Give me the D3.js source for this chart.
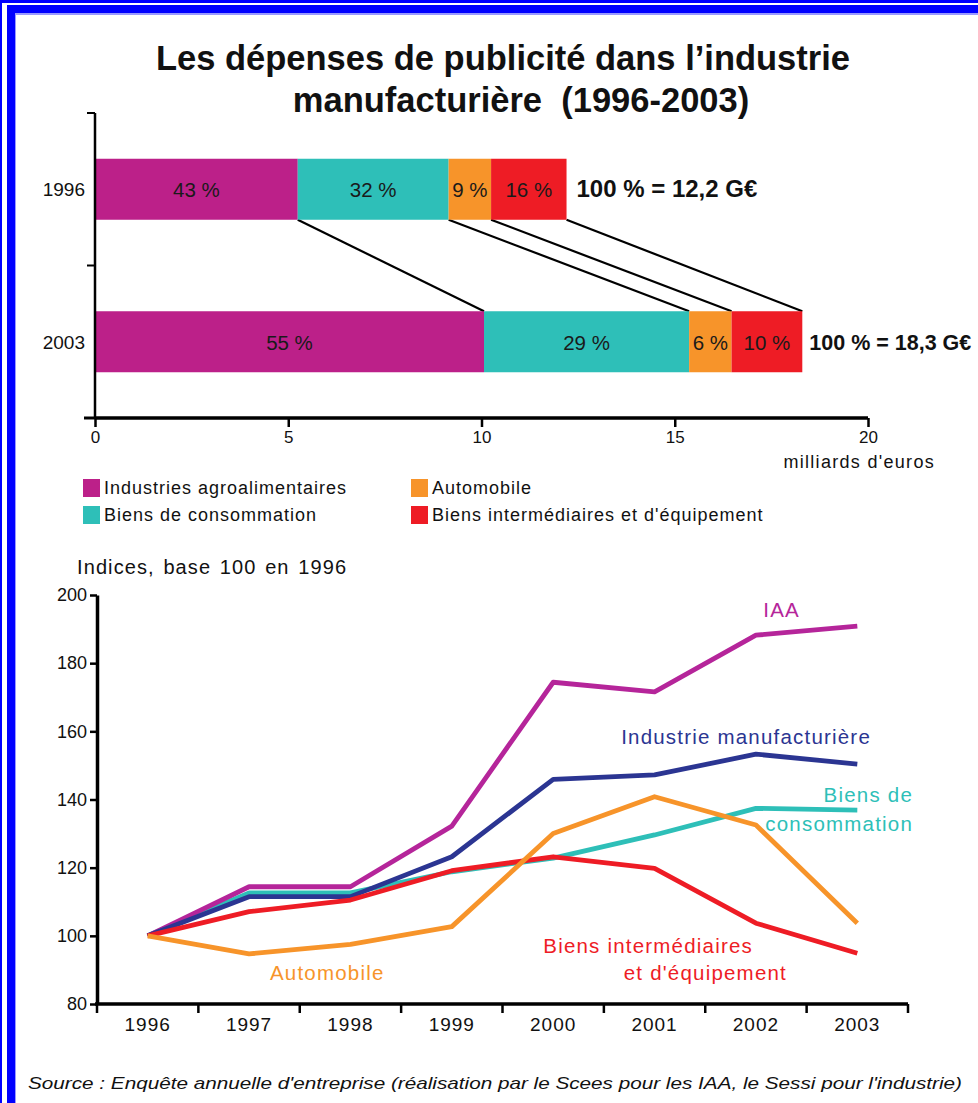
<!DOCTYPE html>
<html>
<head>
<meta charset="utf-8">
<script src="https://cdn.jsdelivr.net/npm/d3@7/dist/d3.min.js"></script>
<style>
body{margin:0;padding:0;background:#fff;}
svg{display:block;font-family:"Liberation Sans",Arial,Helvetica,sans-serif;}
</style>
</head>
<body>
<svg id="chart" width="978" height="1103"></svg>
<script>
// ---------- DATA ----------
const barYears = ["1996", "2003"];
const barTotals = [12.2, 18.3];
const sectors = ["Industries agroalimentaires", "Biens de consommation", "Automobile", "Biens intermédiaires et d'équipement"];
const sectorColors = ["#bc2089", "#2ebfb8", "#f7942a", "#ee1c25"];
const shares1996 = [43, 32, 9, 16];
const shares2003 = [55, 29, 6, 10];
const totalLabels = ["100 % = 12,2 G€", "100 % = 18,3 G€"];
const barTicks = [0, 5, 10, 15, 20];

const lineYears = ["1996", "1997", "1998", "1999", "2000", "2001", "2002", "2003"];
const idxIAA = [100, 114.4, 114.4, 132.2, 174.4, 171.6, 188.2, 190.9];
const idxManuf = [100, 111.5, 111.5, 123.2, 145.9, 147.2, 153.3, 150.4];
const idxConso = [100, 112.6, 112.6, 118.8, 122.8, 129.6, 137.4, 136.9];
const idxAuto = [100, 94.7, 97.5, 102.7, 130.0, 140.8, 132.5, 103.7];
const idxInter = [100, 107.1, 110.5, 119.1, 123.2, 119.8, 103.7, 94.9];
const lineTicks = [80, 100, 120, 140, 160, 180, 200];

const svg = d3.select("#chart");

// ---------- FRAME ----------
svg.append("rect").attr("x", 0).attr("y", 0).attr("width", 978).attr("height", 1103).attr("fill", "#0000ff");
svg.append("rect").attr("x", 2).attr("y", 3).attr("width", 976).attr("height", 1100).attr("fill", "#ffffff");
svg.append("rect").attr("x", 7).attr("y", 5).attr("width", 971).attr("height", 1098).attr("fill", "#0000ff");
svg.append("rect").attr("x", 15).attr("y", 13).attr("width", 963).attr("height", 1090).attr("fill", "#9a9aff");
svg.append("rect").attr("x", 16).attr("y", 15).attr("width", 962).attr("height", 1088).attr("fill", "#ffffff");

// ---------- TITLE ----------
const title = svg.append("text").attr("text-anchor", "middle").attr("font-weight", "bold")
  .attr("font-size", 34.5).attr("fill", "#111").attr("xml:space", "preserve");
title.append("tspan").attr("x", 503).attr("y", 70).text("Les dépenses de publicité dans l’industrie");
title.append("tspan").attr("x", 521).attr("y", 112).text("manufacturière  (1996-2003)");

// ---------- BAR CHART ----------
const xb = d3.scaleLinear().domain([0, 20]).range([95, 868]);
const yb = d3.scaleBand().domain(barYears).range([113, 418]).paddingInner(0.6).paddingOuter(0.3);

const barData = barYears.map((yr, i) => {
  const shares = i === 0 ? shares1996 : shares2003;
  let cum = 0;
  const segs = shares.map((s, j) => {
    const v = barTotals[i] * s / 100;
    const seg = {year: yr, share: s, x0: cum, x1: cum + v, color: sectorColors[j]};
    cum += v;
    return seg;
  });
  return {year: yr, segs, total: barTotals[i], label: totalLabels[i]};
});

// connecting lines
const g = svg.append("g");
for (let j = 0; j < sectors.length; j++) {
  const a = barData[0].segs[j], b = barData[1].segs[j];
  g.append("line")
    .attr("x1", xb(a.x1)).attr("y1", yb("1996") + yb.bandwidth())
    .attr("x2", xb(b.x1)).attr("y2", yb("2003"))
    .attr("stroke", "#000").attr("stroke-width", 2.2);
}

barData.forEach((bd, i) => {
  const grp = svg.append("g");
  grp.selectAll("rect").data(bd.segs).join("rect")
    .attr("x", d => xb(d.x0)).attr("y", yb(bd.year))
    .attr("width", d => xb(d.x1) - xb(d.x0)).attr("height", yb.bandwidth())
    .attr("fill", d => d.color);
  grp.selectAll("text.pct").data(bd.segs).join("text").attr("class", "pct")
    .attr("x", d => (xb(d.x0) + xb(d.x1)) / 2).attr("y", yb(bd.year) + yb.bandwidth() / 2 + 8)
    .attr("text-anchor", "middle").attr("font-size", 20.5).attr("fill", "#1a1a1a")
    .text(d => d.share + " %");
  grp.append("text")
    .attr("x", xb(bd.total) + (i === 0 ? 10 : 7)).attr("y", yb(bd.year) + yb.bandwidth() / 2 + 8)
    .attr("font-size", i === 0 ? 24 : 21.5).attr("font-weight", "bold").attr("fill", "#111")
    .text(bd.label);
});

// bar axes
const xAxisB = svg.append("g").attr("transform", "translate(0,418)")
  .call(d3.axisBottom(xb).tickValues(barTicks).tickSize(9).tickPadding(4).tickFormat(d3.format("d")));
xAxisB.select(".domain").attr("stroke-width", 3.5).attr("d", "M95,0H868");
xAxisB.selectAll(".tick line").attr("stroke-width", 2.5);
xAxisB.selectAll(".tick text").attr("font-size", 17).attr("fill", "#111").attr("font-family", "Liberation Sans, Arial, sans-serif");
svg.append("text").attr("x", 935).attr("y", 468).attr("text-anchor", "end")
  .attr("font-size", 18).attr("fill", "#111").attr("letter-spacing", 1.3).text("milliards d'euros");

svg.append("line").attr("x1", 95).attr("x2", 95).attr("y1", 113).attr("y2", 418).attr("stroke", "#000").attr("stroke-width", 2.5);
[113, (113 + 418) / 2].forEach(v => {
  svg.append("line").attr("x1", 87).attr("x2", 95).attr("y1", v).attr("y2", v).attr("stroke", "#000").attr("stroke-width", 2);
});
svg.append("line").attr("x1", 84).attr("x2", 95).attr("y1", 418).attr("y2", 418).attr("stroke", "#000").attr("stroke-width", 3);
barYears.forEach(yr => {
  svg.append("text").attr("x", 85).attr("y", yb(yr) + yb.bandwidth() / 2 + 7).attr("text-anchor", "end")
    .attr("font-size", 19).attr("fill", "#111").text(yr);
});

// legend
const legPos = [[83, 479], [83, 506], [411, 479], [411, 506]];
const legOrder = [0, 1, 2, 3];
legOrder.forEach((k, i) => {
  const [lx, ly] = legPos[i];
  svg.append("rect").attr("x", lx).attr("y", ly).attr("width", 17).attr("height", 18).attr("fill", sectorColors[k]);
  svg.append("text").attr("x", lx + 21).attr("y", ly + 15).attr("font-size", 18).attr("letter-spacing", 1)
    .attr("fill", "#111").text(sectors[k]);
});

// ---------- LINE CHART ----------
const xl = d3.scaleBand().domain(lineYears).range([97, 908]);
const yl = d3.scaleLinear().domain([80, 200]).range([1004, 595]);

svg.append("text").attr("x", 77).attr("y", 574).attr("font-size", 20).attr("letter-spacing", 1.1)
  .attr("word-spacing", 2).attr("fill", "#111").text("Indices, base 100 en 1996");

const yAxisL = svg.append("g").attr("transform", "translate(97,0)")
  .call(d3.axisLeft(yl).tickValues(lineTicks).tickSize(7).tickPadding(3).tickSizeOuter(0));
yAxisL.select(".domain").attr("stroke-width", 3.5);
yAxisL.selectAll(".tick line").attr("stroke-width", 2.5);
yAxisL.selectAll(".tick text").attr("font-size", 18).attr("fill", "#111").attr("font-family", "Liberation Sans, Arial, sans-serif");

const xAxisL = svg.append("g").attr("transform", "translate(0,1004)")
  .call(d3.axisBottom(xl).tickSize(0).tickPadding(14));
xAxisL.select(".domain").attr("stroke-width", 3.5).attr("d", "M95,0H908");
xAxisL.selectAll(".tick text").attr("font-size", 19).attr("letter-spacing", 1).attr("fill", "#111")
  .attr("font-family", "Liberation Sans, Arial, sans-serif");
const edges = lineYears.map(y => xl(y)).concat([xl.range()[1]]);
svg.append("g").selectAll("line").data(edges).join("line")
  .attr("x1", d => d).attr("x2", d => d).attr("y1", 1004).attr("y2", 1013)
  .attr("stroke", "#000").attr("stroke-width", 2.5);

const series = [
  {vals: idxConso, color: "#2ebfb8"},
  {vals: idxIAA, color: "#b5259a"},
  {vals: idxManuf, color: "#2b3592"},
  {vals: idxInter, color: "#ee1c25"},
  {vals: idxAuto, color: "#f7942a"}
];
const line = d3.line().x((d, i) => xl(lineYears[i]) + xl.bandwidth() / 2).y(d => yl(d));
svg.append("g").selectAll("path").data(series).join("path")
  .attr("d", d => line(d.vals)).attr("fill", "none").attr("stroke", d => d.color)
  .attr("stroke-width", 4.8).attr("stroke-linejoin", "round");

const labels = [
  {t: "IAA", x: 800, y: 617, c: "#b5259a", a: "end"},
  {t: "Industrie manufacturière", x: 871, y: 744, c: "#2b3592", a: "end"},
  {t: "Biens de", x: 913, y: 802, c: "#2ebfb8", a: "end"},
  {t: "consommation", x: 913, y: 831, c: "#2ebfb8", a: "end"},
  {t: "Biens intermédiaires", x: 753, y: 953, c: "#ee1c25", a: "end"},
  {t: "et d'équipement", x: 787, y: 980, c: "#ee1c25", a: "end"},
  {t: "Automobile", x: 270, y: 980, c: "#f7942a", a: "start"}
];
svg.append("g").selectAll("text").data(labels).join("text")
  .attr("x", d => d.x).attr("y", d => d.y).attr("text-anchor", d => d.a)
  .attr("font-size", 20.5).attr("letter-spacing", 1.2).attr("fill", d => d.c).text(d => d.t);

// source
svg.append("text").attr("x", 28).attr("y", 1089).attr("font-size", 17).attr("font-style", "italic")
  .attr("fill", "#111").attr("textLength", 934).attr("lengthAdjust", "spacingAndGlyphs")
  .text("Source : Enquête annuelle d'entreprise (réalisation par le Scees pour les IAA, le Sessi pour l'industrie)");
</script>
</body>
</html>
